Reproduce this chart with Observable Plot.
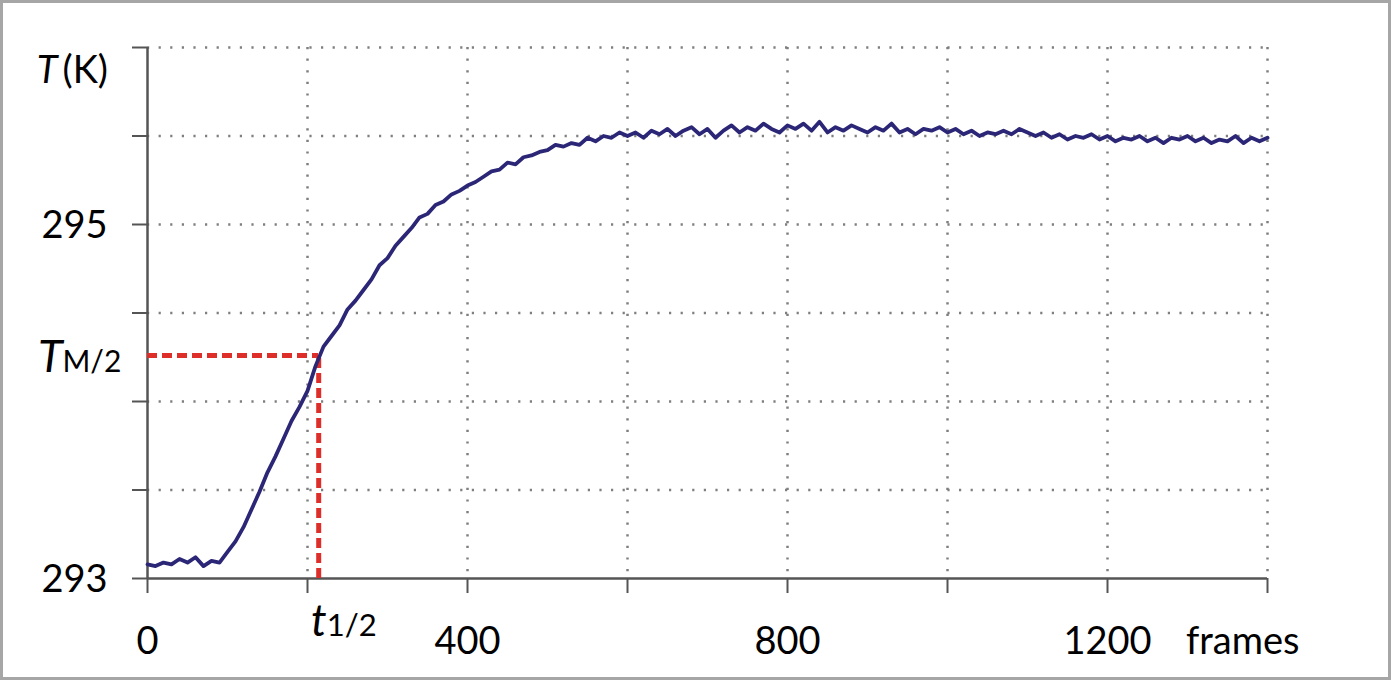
<!DOCTYPE html>
<html><head><meta charset="utf-8">
<script src="https://cdn.jsdelivr.net/npm/d3@7"></script>
<script src="https://cdn.jsdelivr.net/npm/@observablehq/plot@0.6"></script>
<style>
body{margin:0;background:#fff}
#frame{width:1391px;height:680px;box-sizing:border-box;border:3px solid #a6a6a6;overflow:hidden;background:#fff}
</style>
</head><body><div id="frame"></div>
<script>
const frames = d3.range(0, 1401, 10);
const temps = [
  293.08, 293.07, 293.09, 293.08, 293.11, 293.09, 293.12, 293.07, 293.10, 293.09,
  293.15, 293.21, 293.29, 293.39, 293.49, 293.60, 293.69, 293.79, 293.89, 293.97,
  294.06, 294.20, 294.31, 294.37, 294.43, 294.52, 294.57, 294.63, 294.69, 294.77,
  294.81, 294.88, 294.93, 294.98, 295.04, 295.06, 295.11, 295.13, 295.17, 295.19,
  295.22, 295.24, 295.27, 295.30, 295.31, 295.35, 295.34, 295.38, 295.39, 295.41,
  295.42, 295.45, 295.44, 295.46, 295.45, 295.49, 295.47, 295.50, 295.49, 295.52,
  295.50, 295.52, 295.49, 295.53, 295.51, 295.54, 295.50, 295.53, 295.55, 295.51,
  295.54, 295.49, 295.53, 295.56, 295.52, 295.55, 295.53, 295.57, 295.54, 295.52,
  295.56, 295.54, 295.57, 295.53, 295.58, 295.52, 295.55, 295.53, 295.56, 295.54,
  295.52, 295.55, 295.53, 295.57, 295.52, 295.54, 295.51, 295.54, 295.53, 295.55,
  295.52, 295.54, 295.51, 295.53, 295.50, 295.52, 295.51, 295.53, 295.51, 295.54,
  295.52, 295.50, 295.52, 295.49, 295.51, 295.48, 295.50, 295.49, 295.51, 295.48,
  295.50, 295.47, 295.49, 295.48, 295.50, 295.47, 295.49, 295.46, 295.49, 295.48,
  295.50, 295.47, 295.49, 295.46, 295.48, 295.47, 295.50, 295.46, 295.49, 295.47,
  295.49
];
const xTicks = [0, 200, 400, 600, 800, 1000, 1200, 1400];
const xGridTicks = [200, 400, 600, 800, 1000, 1200, 1400];
const xLabels = ["0", "400", "800", "1200"];
const xLabelValues = [0, 400, 800, 1200];
const yTicks = [293, 293.5, 294, 294.5, 295, 295.5, 296];
const yGridTicks = [293.5, 294, 294.5, 295, 295.5, 296];
const yLabels = ["293", "295"];
const yLabelValues = [293, 295];
const tHalf = 214;      // frames
const TMhalf = 294.26;  // K
const xUnit = "frames";

const data = frames.map((f, i) => ({frame: f, T: temps[i]}));
const xLab = xLabels.map((l, i) => ({label: l, frame: xLabelValues[i]}));
const yLab = yLabels.map((l, i) => ({label: l, T: yLabelValues[i]}));

const font = "Lato, 'Open Sans', sans-serif";
const gridStyle = {stroke: "#7f7f7f", strokeOpacity: 1, strokeWidth: 2.5, strokeDasharray: "2.2,9.4"};
const red = {stroke: "#dd2e2a", strokeWidth: 5, strokeDasharray: "10,5"};

const chart = Plot.plot({
  width: 1385, height: 674,
  marginLeft: 144, marginRight: 121, marginTop: 44, marginBottom: 99,
  x: {domain: [0, 1400], axis: null},
  y: {domain: [293, 296], axis: null},
  style: {fontFamily: font, background: "white", color: "black"},
  marks: [
    Plot.gridX(xGridTicks, gridStyle),
    Plot.gridY(yGridTicks, gridStyle),
    Plot.axisX(xTicks, {tickSize: 15, tickFormat: () => "", label: null, stroke: "#555", strokeWidth: 2}),
    Plot.axisY(yTicks, {tickSize: 15, tickFormat: () => "", label: null, stroke: "#555", strokeWidth: 2}),
    Plot.ruleX([0], {stroke: "#555", strokeWidth: 2.5}),
    Plot.ruleY([293], {stroke: "#555", strokeWidth: 2.5}),
    Plot.ruleY([TMhalf], {x1: 0, x2: tHalf, ...red}),
    Plot.ruleX([tHalf], {y1: 293, y2: TMhalf, ...red}),
    Plot.line(data, {x: "frame", y: "T", stroke: "#2b2676", strokeWidth: 3.8, strokeLinejoin: "round"}),
    // x tick labels
    Plot.text(xLab, {x: "frame", text: "label", frameAnchor: "bottom", lineAnchor: "bottom", dy: 75, fontSize: 38, fill: "black"}),
    Plot.text([xUnit], {x: [1400], text: d => d, frameAnchor: "bottom", lineAnchor: "bottom", textAnchor: "end", dx: 32, dy: 75, fontSize: 38, fill: "black"}),
    // y tick labels
    Plot.text(yLab, {y: "T", text: "label", frameAnchor: "left", textAnchor: "end", lineAnchor: "bottom", dx: -40, dy: 13, fontSize: 38, fill: "black"}),
    // T (K)
    Plot.text(["T"], {y: [296], frameAnchor: "left", textAnchor: "end", lineAnchor: "bottom", dx: -90, dy: 35, fontSize: 38, fontStyle: "italic", fill: "black"}),
    Plot.text(["(K)"], {y: [296], frameAnchor: "left", textAnchor: "start", lineAnchor: "bottom", dx: -85, dy: 35, fontSize: 38, fill: "black"}),
    // T_M/2
    Plot.text(["T"], {y: [TMhalf], frameAnchor: "left", textAnchor: "end", lineAnchor: "bottom", dx: -85, dy: 17, fontSize: 45, fontStyle: "italic", fill: "black"}),
    Plot.text(["M/2"], {y: [TMhalf], frameAnchor: "left", textAnchor: "start", lineAnchor: "bottom", dx: -85, dy: 17, fontSize: 30, fill: "black"}),
    // t_1/2
    Plot.text(["t"], {x: [tHalf], frameAnchor: "bottom", textAnchor: "end", lineAnchor: "bottom", dx: 8, dy: 57, fontSize: 44, fontStyle: "italic", fill: "black"}),
    Plot.text(["1/2"], {x: [tHalf], frameAnchor: "bottom", textAnchor: "start", lineAnchor: "bottom", dx: 8, dy: 57, fontSize: 31, fill: "black"})
  ]
});
document.getElementById("frame").appendChild(chart);
</script>
</body></html>
